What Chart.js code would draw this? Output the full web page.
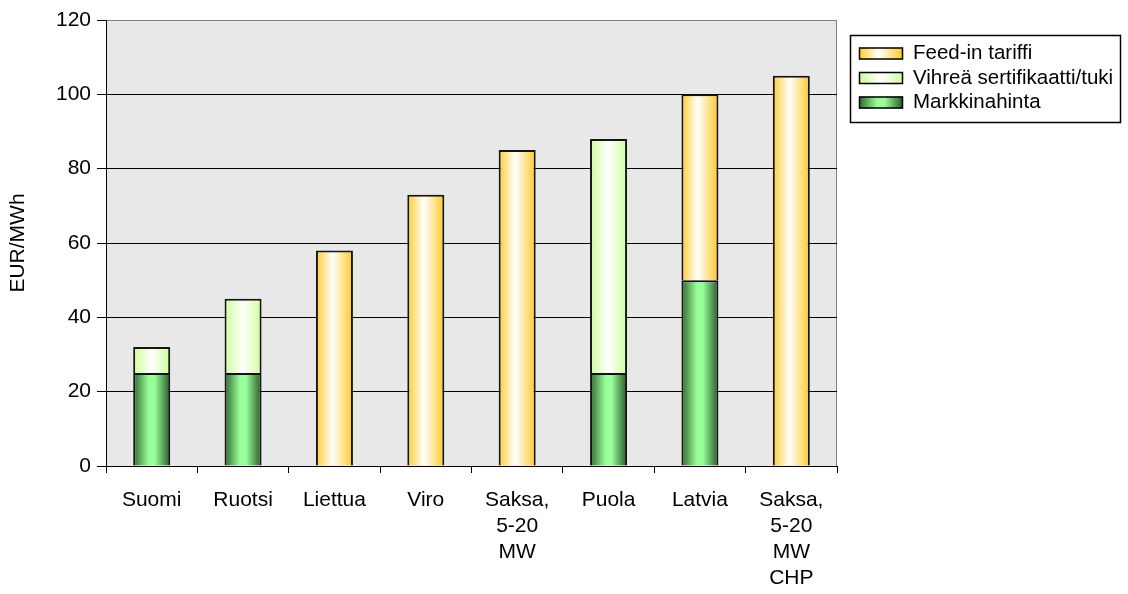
<!DOCTYPE html>
<html>
<head>
<meta charset="utf-8">
<script src="https://cdn.jsdelivr.net/npm/chart.js@4/dist/chart.umd.min.js"></script>
<style>
  html, body { margin: 0; padding: 0; background: #ffffff; }
  #wrap { width: 1128px; height: 594px; position: relative; }
</style>
</head>
<body>
<div id="wrap"><canvas id="c" width="1128" height="594"></canvas></div>
<script>
// Categories (multi-line labels are arrays)
const categories = ['Suomi', 'Ruotsi', 'Liettua', 'Viro', ['Saksa,', '5-20', 'MW'], 'Puola', 'Latvia', ['Saksa,', '5-20', 'MW', 'CHP']];
// Stacked components, EUR/MWh (null = not present)
const markkinahinta = [25, 25, null, null, null, 25, 50, null];
const vihrea        = [7, 20, null, null, null, 63, null, null];
const feedIn        = [null, null, 58, 73, 85, null, 50, 105];
const yTicks = [0, 20, 40, 60, 80, 100, 120];
const seriesNames = ['Markkinahinta', 'Vihreä sertifikaatti/tuki', 'Feed-in tariffi'];

const FONT = "'Liberation Sans', Arial, sans-serif";
const BAR_FRACTION = 0.405;

const gradStops = {
  market: [[0, '#2F682F'], [0.42, '#99FF99'], [0.58, '#99FF99'], [1, '#285628']],
  green:  [[0, '#CCFF99'], [0.5, '#FFFFFF'], [1, '#CCFF99']],
  feed:   [[0, '#FFCC33'], [0.45, '#FFFFFF'], [1, '#FFC825']]
};

function makeGradient(ctx, x0, x1, stops) {
  const g = ctx.createLinearGradient(x0, 0, x1, 0);
  stops.forEach(s => g.addColorStop(s[0], s[1]));
  return g;
}

// Horizontal cylinder-style shading, spanning each bar's own width
function barFill(stops) {
  return (c) => {
    const chart = c.chart;
    const xs = chart.scales && chart.scales.x;
    if (c.type !== 'data' || !xs || !isFinite(xs.width) || xs.width <= 0) return stops[1][1];
    const cx = xs.getPixelForValue(c.dataIndex);
    const w = xs.width / categories.length * BAR_FRACTION;
    return makeGradient(chart.ctx, cx - w / 2, cx + w / 2, stops);
  };
}

const plotBackground = {
  id: 'plotBackground',
  beforeDraw(chart) {
    const { ctx, chartArea: a } = chart;
    ctx.save();
    ctx.fillStyle = '#E8E8E8';
    ctx.fillRect(a.left, a.top, a.right - a.left, a.bottom - a.top);
    ctx.strokeStyle = '#808080';
    ctx.lineWidth = 1;
    ctx.beginPath();
    ctx.moveTo(a.left, a.top + 0.5);
    ctx.lineTo(a.right - 0.5, a.top + 0.5);
    ctx.lineTo(a.right - 0.5, a.bottom);
    ctx.stroke();
    ctx.restore();
  }
};

// Boxed legend at the upper right, listed top-down in stack order
const boxedLegend = {
  id: 'boxedLegend',
  afterDraw(chart) {
    const ctx = chart.ctx;
    const left = 850, top = 35, width = 270, height = 87;
    ctx.save();
    ctx.strokeStyle = '#000000';
    ctx.lineWidth = 1.5;
    ctx.strokeRect(left + 0.5, top + 0.5, width, height);
    const entries = [
      { name: seriesNames[2], stops: gradStops.feed },
      { name: seriesNames[1], stops: gradStops.green },
      { name: seriesNames[0], stops: gradStops.market }
    ];
    ctx.font = '20.5px ' + FONT;
    ctx.textBaseline = 'middle';
    ctx.textAlign = 'left';
    entries.forEach((e, i) => {
      const cy = top + 18.5 + i * 24.5;
      const bx = 859, bw = 44, bh = 12;
      ctx.fillStyle = makeGradient(ctx, bx, bx + bw, e.stops);
      ctx.fillRect(bx, cy - bh / 2, bw, bh);
      ctx.strokeStyle = '#000000';
      ctx.lineWidth = 1.5;
      ctx.strokeRect(bx + 0.5, cy - bh / 2 + 0.5, bw - 1, bh - 1);
      ctx.fillStyle = '#000000';
      ctx.fillText(e.name, 913, cy);
    });
    ctx.restore();
  }
};

Chart.defaults.font.family = FONT;
Chart.defaults.color = '#000000';

new Chart(document.getElementById('c'), {
  type: 'bar',
  data: {
    labels: categories,
    datasets: [
      { label: seriesNames[0], data: markkinahinta, backgroundColor: barFill(gradStops.market) },
      { label: seriesNames[1], data: vihrea, backgroundColor: barFill(gradStops.green) },
      { label: seriesNames[2], data: feedIn, backgroundColor: barFill(gradStops.feed) }
    ]
  },
  options: {
    responsive: false,
    animation: false,
    devicePixelRatio: 1,
    layout: { padding: { top: 20, right: 291, left: 0, bottom: 0 } },
    datasets: {
      bar: {
        categoryPercentage: 1,
        barPercentage: BAR_FRACTION,
        borderColor: '#141414',
        borderWidth: 2,
        borderSkipped: 'start'
      }
    },
    plugins: {
      legend: { display: false },
      tooltip: { enabled: false }
    },
    scales: {
      x: {
        stacked: true,
        offset: true,
        grid: { offset: true, drawOnChartArea: false, drawTicks: true, tickLength: 7, tickColor: '#000000', color: '#000000' },
        border: { display: true, color: '#000000', width: 1 },
        ticks: { font: { size: 21, lineHeight: 1.24 }, padding: 14, maxRotation: 0, autoSkip: false, color: '#000000' },
        afterFit(scale) { scale.height = 128; }
      },
      y: {
        stacked: true,
        min: 0,
        max: 120,
        afterBuildTicks(scale) { scale.ticks = yTicks.map(v => ({ value: v })); },
        grid: {
          color: (c) => (c.tick && c.tick.value === 120 ? '#808080' : '#000000'),
          tickColor: '#000000',
          tickLength: 9,
          lineWidth: 1
        },
        border: { display: true, color: '#000000', width: 1 },
        ticks: { font: { size: 21 }, padding: 6, color: '#000000' },
        title: { display: true, text: 'EUR/MWh', font: { size: 21 }, padding: { top: 6, bottom: 0 }, color: '#000000' },
        afterFit(scale) { scale.width = 106; }
      }
    }
  },
  plugins: [plotBackground, boxedLegend]
});
</script>
</body>
</html>
